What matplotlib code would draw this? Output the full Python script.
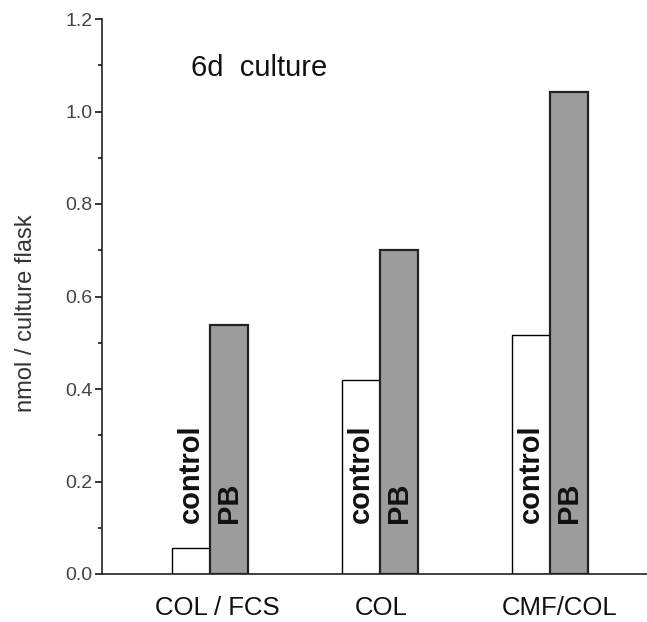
import numpy as np
import matplotlib
matplotlib.use("Agg")
import matplotlib.pyplot as plt
import matplotlib.transforms as mtransforms

plt.rcParams['font.family'] = ['Liberation Sans', 'DejaVu Sans']

# data
groups = ["COL / FCS", "COL", "CMF/COL"]
control = [0.056, 0.42, 0.517]
pb = [0.538, 0.70, 1.042]
yticks = [0.0, 0.2, 0.4, 0.6, 0.8, 1.0, 1.2]

fig = plt.figure(figsize=(6.47, 6.22), dpi=100)
ax = fig.add_axes([102 / 647, 48 / 622, 545 / 647, 555 / 622])

x = np.arange(len(groups))
w = 0.2235

ax.bar(x - w / 2, control, width=w, color="white", edgecolor="black", linewidth=1.0, zorder=2)
ax.bar(x + w / 2, pb, width=w, color="#9c9c9c", edgecolor="#222222", linewidth=1.6, zorder=2)

# labels inside/above the bars
for xi in x:
    ax.text(xi - w / 2, 0.11, "control", rotation=90, ha="center", va="bottom",
            fontsize=21, fontweight="bold", color="#111111", zorder=3)
    ax.text(xi + w / 2, 0.11, "PB", rotation=90, ha="center", va="bottom",
            fontsize=21, fontweight="bold", color="#111111", zorder=3)

ax.text(0.29, 1.094, "6d  culture", ha="center", va="center", fontsize=21, color="#111111")

ax.set_xlim(-0.635, 2.57)
ax.set_ylim(0, 1.2)
ax.set_xticks(x)
ax.set_xticklabels(groups, fontsize=18.5, color="#111111")
ax.tick_params(axis="x", length=0, pad=16)
# labels sit a little right of the bar pairs in the original
for lab, dx in zip(ax.get_xticklabels(), [7, 1, 10]):
    lab.set_transform(lab.get_transform() + mtransforms.ScaledTranslation(dx / 100, 0, fig.dpi_scale_trans))

ax.set_yticks(yticks)
ax.set_yticklabels(["%.1f" % v for v in yticks], fontsize=14, color="#444444")
ax.set_yticks(np.arange(0.1, 1.2, 0.2), minor=True)
ax.tick_params(axis="y", which="major", length=5, width=1.1, direction="out", pad=2)
ax.tick_params(axis="y", which="minor", length=3, width=1.1, direction="out")

ax.set_ylabel("nmol / culture flask", fontsize=17, color="#333333")
ax.yaxis.set_label_coords(-0.12, 0.47)

for s in ["top", "right"]:
    ax.spines[s].set_visible(False)
for s in ["left", "bottom"]:
    ax.spines[s].set_linewidth(1.2)
    ax.spines[s].set_color("#222222")

fig.savefig("out.png", dpi=100)
